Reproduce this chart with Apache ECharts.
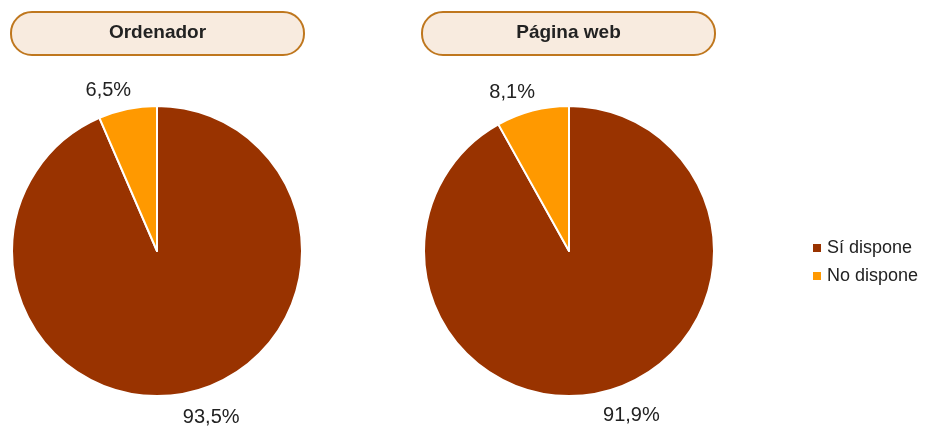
<!DOCTYPE html>
<html>
<head>
<meta charset="utf-8">
<script src="https://cdn.jsdelivr.net/npm/echarts@6/dist/echarts.min.js"></script>
<style>
  html, body { margin: 0; padding: 0; background: #fff; }
  #chart { width: 933px; height: 426px; }
</style>
</head>
<body>
<div id="chart"></div>
<script>
// datos
const categorias = ['Sí dispone', 'No dispone'];
const ordenador = [93.5, 6.5];
const paginaWeb = [91.9, 8.1];
const titulos = ['Ordenador', 'Página web'];
const colores = ['#993300', '#ff9900'];

const fuente = 'Arial, "Liberation Sans", sans-serif';
const chart = echarts.init(document.getElementById('chart'));

function toData(vals) {
  return vals.map((v, i) => ({ name: categorias[i], value: v }));
}

function tituloBox(x, text) {
  return {
    type: 'group',
    left: x,
    top: 11,
    children: [
      {
        type: 'rect',
        shape: { x: 0, y: 0, width: 293, height: 43, r: 21 },
        style: { fill: '#f8ebdf', stroke: '#bf771e', lineWidth: 2 }
      },
      {
        type: 'text',
        x: 146.5,
        y: 21,
        style: {
          text: text,
          fill: '#222',
          font: 'bold 19px ' + fuente,
          align: 'center',
          verticalAlign: 'middle'
        }
      }
    ]
  };
}

function pieSerie(center, vals) {
  return {
    type: 'pie',
    center: center,
    radius: 145,
    startAngle: 90,
    clockwise: true,
    silent: true,
    avoidLabelOverlap: false,
    data: toData(vals),
    itemStyle: { borderColor: '#fff', borderWidth: 2 },
    label: {
      show: true,
      position: 'outside',
      formatter: p => String(p.value).replace('.', ',') + '%',
      color: '#222',
      fontSize: 20,
      fontFamily: fuente,
      distanceToLabelLine: -8
    },
    labelLine: { show: false, length: 22, length2: 0 },
    labelLayout: { dy: 3 },
    animation: false
  };
}

chart.setOption({
  color: colores,
  graphic: [tituloBox(10, titulos[0]), tituloBox(421, titulos[1])],
  legend: {
    orient: 'vertical',
    left: 806,
    top: 234,
    icon: 'rect',
    itemWidth: 10,
    itemHeight: 10,
    itemGap: 10,
    data: categorias,
    textStyle: {
      color: '#222',
      fontSize: 18,
      fontFamily: fuente
    }
  },
  series: [
    pieSerie([157, 251], ordenador),
    pieSerie([569, 251], paginaWeb)
  ]
});
</script>
</body>
</html>
